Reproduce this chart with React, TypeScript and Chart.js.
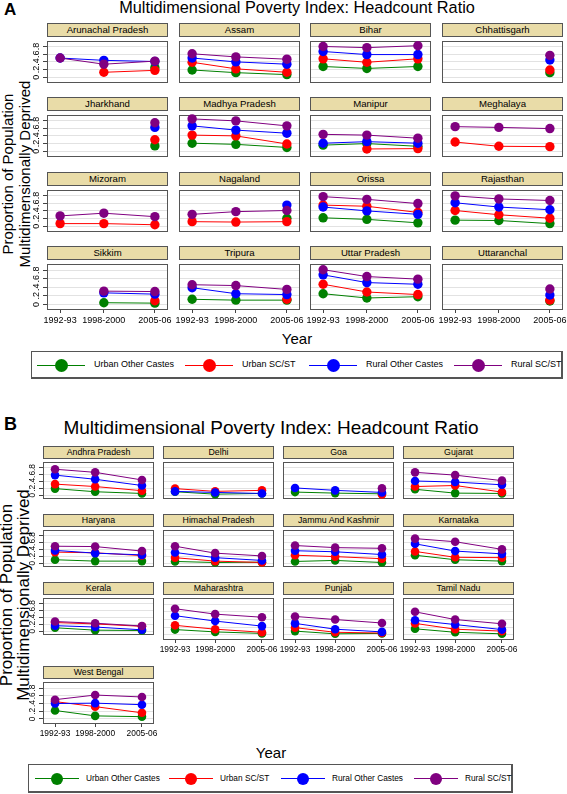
import React, { useEffect, useRef } from 'react';
import { Chart, registerables } from 'chart.js';

Chart.register(...registerables);

// ---------------- DATA ----------------
const yearLabels = ['1992-93', '1998-2000', '2005-06'];
const yearPositions = [1993, 1999, 2006];
const yTickValues = [0, 0.2, 0.4, 0.6, 0.8];
const yTickLabels = ['0', '.2', '.4', '.6', '.8'];
const seriesNames = ['Urban Other Castes', 'Urban SC/ST', 'Rural Other Castes', 'Rural SC/ST'];
const seriesColors = ['#008000', '#ff0000', '#0000ff', '#800080'];

const titleText = 'Multidimensional Poverty Index: Headcount Ratio';
const yTitleLines = ['Proportion of Population', 'Multidimensionally Deprived'];
const xTitleText = 'Year';

const statesA = [
  'Arunachal Pradesh', 'Assam', 'Bihar', 'Chhattisgarh',
  'Jharkhand', 'Madhya Pradesh', 'Manipur', 'Meghalaya',
  'Mizoram', 'Nagaland', 'Orissa', 'Rajasthan',
  'Sikkim', 'Tripura', 'Uttar Pradesh', 'Uttaranchal',
];
const urbanOtherA = [
  [null, null, 0.25], [0.19, 0.12, 0.07], [0.28, 0.23, 0.28], [null, null, 0.12],
  [null, null, 0.14], [0.21, 0.18, 0.10], [0.16, 0.20, 0.13], [null, null, null],
  [null, null, null], [null, null, 0.21], [0.22, 0.18, 0.09], [0.16, 0.15, 0.07],
  [null, 0.04, 0.03], [0.12, 0.10, 0.10], [0.25, 0.15, 0.18], [null, null, 0.08],
];
const urbanScA = [
  [null, 0.13, 0.18], [0.39, 0.22, 0.13], [0.48, 0.39, 0.48], [null, null, 0.19],
  [null, null, 0.30], [0.42, 0.40, 0.19], [null, 0.06, 0.07], [0.24, 0.13, 0.12],
  [0.07, 0.07, 0.04], [0.12, 0.11, 0.12], [0.55, 0.52, 0.36], [0.41, 0.30, 0.21],
  [null, null, 0.085], [null, null, 0.12], [0.47, 0.29, 0.23], [null, null, 0.10],
];
const ruralOtherA = [
  [0.50, 0.44, 0.41], [0.50, 0.40, 0.34], [0.67, 0.59, 0.59], [null, null, 0.45],
  [null, null, 0.62], [0.66, 0.55, 0.47], [0.21, 0.25, 0.21], [null, null, null],
  [null, null, null], [null, null, 0.55], [0.50, 0.40, 0.31], [0.61, 0.50, 0.43],
  [null, 0.27, 0.24], [0.39, 0.25, 0.23], [0.69, 0.51, 0.47], [null, null, 0.22],
];
const ruralScA = [
  [0.50, 0.34, 0.42], [0.61, 0.53, 0.47], [0.80, 0.77, 0.82], [null, null, 0.57],
  [null, null, 0.74], [0.84, 0.79, 0.66], [0.44, 0.42, 0.34], [0.64, 0.62, 0.59],
  [0.27, 0.34, 0.25], [0.31, 0.38, 0.41], [0.77, 0.70, 0.59], [0.79, 0.71, 0.67],
  [null, 0.31, 0.30], [0.46, 0.44, 0.35], [0.81, 0.65, 0.59], [null, null, 0.36],
];

const statesB = [
  'Andhra Pradesh', 'Delhi', 'Goa', 'Gujarat',
  'Haryana', 'Himachal Pradesh', 'Jammu And Kashmir', 'Karnataka',
  'Kerala', 'Maharashtra', 'Punjab', 'Tamil Nadu',
  'West Bengal',
];
const urbanOtherB = [
  [0.19, 0.10, 0.05], [0.10, 0.03, 0.05], [0.09, 0.06, 0.04], [0.17, 0.06, 0.05],
  [0.10, 0.06, 0.06], [0.05, 0.02, 0.03], [0.05, 0.08, 0.02], [0.23, 0.10, 0.06],
  [0.10, 0.03, 0.02], [0.14, 0.08, 0.04], [0.10, 0.03, 0.04], [0.16, 0.07, 0.03],
  [0.22, 0.08, 0.06],
];
const urbanScB = [
  [0.32, 0.25, 0.13], [0.19, 0.11, 0.14], [null, null, 0.02], [0.25, 0.28, 0.09],
  [0.32, 0.30, 0.22], [0.16, 0.06, 0.02], [0.23, 0.19, 0.13], [0.34, 0.17, 0.16],
  [0.25, 0.21, 0.14], [0.25, 0.15, 0.07], [0.19, 0.07, 0.05], [0.30, 0.15, 0.10],
  [0.45, 0.32, 0.16],
];
const ruralOtherB = [
  [0.58, 0.46, 0.28], [0.11, 0.08, 0.05], [0.21, 0.14, 0.08], [0.41, 0.38, 0.30],
  [0.37, 0.29, 0.24], [0.31, 0.16, 0.08], [0.36, 0.33, 0.25], [0.56, 0.35, 0.27],
  [0.16, 0.12, 0.04], [0.50, 0.36, 0.23], [0.30, 0.15, 0.08], [0.38, 0.27, 0.14],
  [0.40, 0.41, 0.37],
];
const ruralScB = [
  [0.75, 0.66, 0.44], [null, null, null], [null, null, 0.20], [0.66, 0.58, 0.42],
  [0.49, 0.48, 0.35], [0.49, 0.29, 0.21], [0.51, 0.45, 0.43], [0.71, 0.62, 0.40],
  [0.28, 0.23, 0.15], [0.68, 0.54, 0.46], [0.48, 0.40, 0.31], [0.60, 0.40, 0.29],
  [0.50, 0.62, 0.57],
];

// ---------------- LAYOUT ----------------
const FONT = '"Liberation Sans", Arial, Helvetica, sans-serif';
const Y_MIN = -0.13;
const Y_MAX = 0.95;
const X_MIN = 1991.2;
const X_MAX = 2007.8;
const AXW = 22;
const PADR = 24;

type PanelLayout = {
  colLefts: number[];
  colW: number;
  stripTops: number[];
  stripH: number;
  plotH: number;
  pointR: number;
  stripFont: number;
  tickFont: number;
  xLabelRows: (i: number, n: number) => boolean;
};

const layoutA: PanelLayout = {
  colLefts: [47, 179, 310, 442],
  colW: 121,
  stripTops: [23, 97, 172, 246],
  stripH: 13,
  plotH: 51,
  pointR: 4.7,
  stripFont: 9.6,
  tickFont: 9,
  xLabelRows: (i) => i >= 12,
};
const layoutB: PanelLayout = {
  colLefts: [43, 163, 283, 403],
  colW: 111,
  stripTops: [446, 514, 582, 666],
  stripH: 12,
  plotH: 46,
  pointR: 4.3,
  stripFont: 8.8,
  tickFont: 8.4,
  xLabelRows: (i) => i >= 9,
};

const framePlugin = {
  id: 'frame',
  beforeDatasetsDraw(chart: any) {
    const { ctx, chartArea: a } = chart;
    ctx.save();
    ctx.strokeStyle = '#555';
    ctx.lineWidth = 1;
    ctx.strokeRect(Math.round(a.left) + 0.5, Math.round(a.top) + 0.5, Math.round(a.width) - 1, Math.round(a.height) - 1);
    ctx.restore();
  },
};

function makeYLabelPlugin(show: boolean, fontSize: number) {
  return {
    id: 'ylabels',
    afterDraw(chart: any) {
      if (!show) return;
      const { ctx, chartArea } = chart;
      const ys = chart.scales.y;
      ctx.save();
      ctx.font = `${fontSize}px ${FONT}`;
      ctx.fillStyle = '#000';
      ctx.textAlign = 'center';
      ctx.textBaseline = 'middle';
      yTickValues.forEach((v, i) => {
        const py = ys.getPixelForValue(v);
        ctx.save();
        ctx.translate(chartArea.left - 10, py);
        ctx.rotate(-Math.PI / 2);
        ctx.fillText(yTickLabels[i], 0, 0);
        ctx.restore();
      });
      ctx.restore();
    },
  };
}

type FacetProps = {
  title: string;
  values: (number | null)[][];
  left: number;
  stripTop: number;
  width: number;
  stripH: number;
  plotH: number;
  showY: boolean;
  showX: boolean;
  pointR: number;
  stripFont: number;
  tickFont: number;
};

function Facet(p: FacetProps) {
  const ref = useRef<HTMLCanvasElement>(null);
  const AXH = p.showX ? 18 : 0;
  const cw = AXW + p.width + PADR;
  const ch = p.plotH + AXH;
  const plotTop = p.stripTop + p.stripH;

  useEffect(() => {
    if (!ref.current) return;
    const chart = new Chart(ref.current, {
      type: 'line',
      data: {
        datasets: seriesNames.map((name, s) => ({
          label: name,
          data: yearPositions.map((x, j) => ({ x, y: p.values[s][j] })) as any,
          borderColor: seriesColors[s],
          backgroundColor: seriesColors[s],
          borderWidth: 1,
          pointRadius: p.pointR,
          pointHoverRadius: p.pointR,
          pointBorderWidth: 0,
          pointBackgroundColor: seriesColors[s],
          order: 4 - s,
          spanGaps: false,
          tension: 0,
          clip: 8,
        })),
      },
      options: {
        responsive: false,
        animation: false,
        events: [],
        layout: { padding: { left: 0, right: PADR, top: 0, bottom: 0 } },
        plugins: { legend: { display: false }, tooltip: { enabled: false }, title: { display: false } },
        scales: {
          x: {
            type: 'linear',
            min: X_MIN,
            max: X_MAX,
            afterBuildTicks: (s: any) => { s.ticks = yearPositions.map((v) => ({ value: v })); },
            afterFit: (s: any) => { s.height = AXH; },
            ticks: {
              display: p.showX,
              autoSkip: false,
              maxRotation: 0,
              minRotation: 0,
              padding: 2,
              color: '#000',
              font: { family: FONT, size: p.tickFont },
              callback: (v: any) => yearLabels[yearPositions.indexOf(Number(v))],
            },
            grid: { display: p.showX, drawOnChartArea: false, drawTicks: true, tickLength: 3, color: '#444' },
            border: { display: false },
          },
          y: {
            type: 'linear',
            min: Y_MIN,
            max: Y_MAX,
            afterBuildTicks: (s: any) => { s.ticks = yTickValues.map((v) => ({ value: v })); },
            afterFit: (s: any) => { s.width = AXW; },
            ticks: { display: false },
            grid: { color: '#e2e2e2', lineWidth: 1, drawTicks: p.showY, tickLength: 4, tickColor: '#444' },
            border: { display: false },
          },
        },
      } as any,
      plugins: [framePlugin, makeYLabelPlugin(p.showY, p.tickFont)],
    });
    return () => chart.destroy();
  }, []);

  return (
    <>
      <div
        style={{
          position: 'absolute',
          left: p.left,
          top: p.stripTop,
          width: p.width,
          height: p.stripH + 1,
          boxSizing: 'border-box',
          border: '1px solid #555',
          background: '#e9dca8',
          fontFamily: FONT,
          fontSize: p.stripFont,
          lineHeight: `${p.stripH - 1}px`,
          textAlign: 'center',
          color: '#000',
          whiteSpace: 'nowrap',
          overflow: 'hidden',
        }}
      >
        {p.title}
      </div>
      <canvas
        ref={ref}
        width={cw}
        height={ch}
        style={{ position: 'absolute', left: p.left - AXW, top: plotTop, width: cw, height: ch }}
      />
    </>
  );
}

type LegendLayout = { left: number; top: number; width: number; height: number; centers: number[]; half: number; gap: number; markR: number; font: number };

function Legend({ l }: { l: LegendLayout }) {
  const cy = l.height / 2;
  return (
    <div
      style={{
        position: 'absolute',
        left: l.left,
        top: l.top,
        width: l.width,
        height: l.height,
        boxSizing: 'border-box',
        border: '1px solid #555',
        borderBottomWidth: 2,
        borderRightWidth: 2,
        background: '#fff',
      }}
    >
      {seriesNames.map((name, i) => {
        const cx = l.centers[i] - l.left - 1;
        return (
          <React.Fragment key={name}>
            <div style={{ position: 'absolute', left: cx - l.half, top: cy - 1.5, width: l.half * 2, height: 1, background: seriesColors[i] }} />
            <div style={{ position: 'absolute', left: cx - l.markR, top: cy - 1 - l.markR, width: l.markR * 2, height: l.markR * 2, borderRadius: '50%', background: seriesColors[i] }} />
            <div style={{ position: 'absolute', left: cx + l.gap, top: 0, height: l.height - 3, lineHeight: `${l.height - 3}px`, fontFamily: FONT, fontSize: l.font, color: '#000', whiteSpace: 'nowrap' }}>{name}</div>
          </React.Fragment>
        );
      })}
    </div>
  );
}

const legendA: LegendLayout = { left: 31, top: 351, width: 532, height: 28, centers: [61, 209, 333, 478], half: 24, gap: 33, markR: 6.5, font: 9 };
const legendB: LegendLayout = { left: 28, top: 764, width: 485, height: 29, centers: [57, 191, 303, 436], half: 22, gap: 29, markR: 6, font: 8.3 };

function Panel({ states, series, lay }: { states: string[]; series: (number | null)[][][]; lay: PanelLayout }) {
  return (
    <>
      {states.map((st, i) => {
        const r = Math.floor(i / 4);
        const c = i % 4;
        return (
          <Facet
            key={st}
            title={st}
            values={series.map((arr) => arr[i])}
            left={lay.colLefts[c]}
            stripTop={lay.stripTops[r]}
            width={lay.colW}
            stripH={lay.stripH}
            plotH={lay.plotH}
            showY={c === 0}
            showX={lay.xLabelRows(i, states.length)}
            pointR={lay.pointR}
            stripFont={lay.stripFont}
            tickFont={lay.tickFont}
          />
        );
      })}
    </>
  );
}

function Text({ x, y, size, bold, children, anchor = 'center' }: any) {
  return (
    <div
      style={{
        position: 'absolute',
        left: x,
        top: y,
        transform: anchor === 'center' ? 'translate(-50%, -50%)' : 'translate(0, -50%)',
        fontFamily: FONT,
        fontSize: size,
        fontWeight: bold ? 'bold' : 'normal',
        whiteSpace: 'nowrap',
        lineHeight: 1,
        color: '#000',
      }}
    >
      {children}
    </div>
  );
}

function YTitle({ x, y, size, lh }: { x: number; y: number; size: number; lh: number }) {
  return (
    <div
      style={{
        position: 'absolute',
        left: x,
        top: y,
        transform: 'translate(-50%, -50%) rotate(-90deg)',
        fontFamily: FONT,
        fontSize: size,
        lineHeight: `${lh}px`,
        whiteSpace: 'nowrap',
        textAlign: 'center',
        color: '#000',
      }}
    >
      {yTitleLines[0]}
      <br />
      {yTitleLines[1]}
    </div>
  );
}

export default function App() {
  const seriesA = [urbanOtherA, urbanScA, ruralOtherA, ruralScA];
  const seriesB = [urbanOtherB, urbanScB, ruralOtherB, ruralScB];
  return (
    <div style={{ position: 'absolute', left: 0, top: 0, width: 567, height: 794, background: '#fff', overflow: 'hidden' }}>
      <Text x={4} y={9} size={17} bold anchor="left">A</Text>
      <Text x={297} y={7} size={16.3}>{titleText}</Text>
      <YTitle x={16} y={174} size={15} lh={17} />
      <Panel states={statesA} series={seriesA} lay={layoutA} />
      <Text x={297} y={338} size={15}>{xTitleText}</Text>
      <Legend l={legendA} />

      <Text x={4} y={424} size={18} bold anchor="left">B</Text>
      <Text x={271} y={427} size={19}>{titleText}</Text>
      <YTitle x={15} y={595} size={17} lh={17} />
      <Panel states={statesB} series={seriesB} lay={layoutB} />
      <Text x={271} y={752} size={15}>{xTitleText}</Text>
      <Legend l={legendB} />
    </div>
  );
}
